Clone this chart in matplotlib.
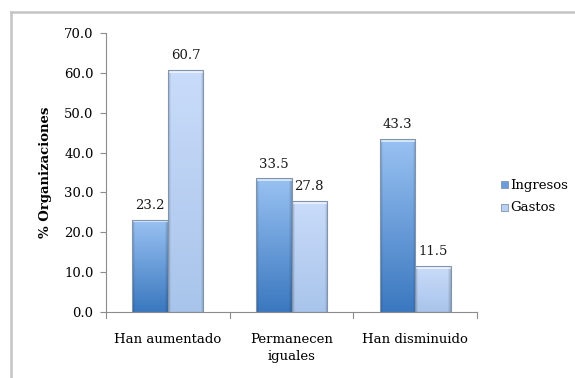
import numpy as np
import matplotlib
matplotlib.use("Agg")
import matplotlib.pyplot as plt
from matplotlib.patches import Rectangle
from matplotlib.lines import Line2D

categories = ["Han aumentado", "Permanecen\niguales", "Han disminuido"]
ingresos = [23.2, 33.5, 43.3]
gastos = [60.7, 27.8, 11.5]
series_names = ["Ingresos", "Gastos"]
yticks = [0, 10, 20, 30, 40, 50, 60, 70]

plt.rcParams["font.family"] = ["DejaVu Serif"]
FS = 9.5

W, H = 575, 378
fig = plt.figure(figsize=(W / 100, H / 100), dpi=100)
ax = fig.add_axes([106 / W, 1 - 312 / H, (477 - 106) / W, (312 - 33) / H])

# outer chart frame (only top and left edges fall inside the canvas)
fig.add_artist(Line2D([11 / W, 11 / W], [0, 1 - 12 / H], transform=fig.transFigure,
                      color="#c4c4c4", lw=1.8))
fig.add_artist(Line2D([11 / W, 1], [1 - 12 / H, 1 - 12 / H], transform=fig.transFigure,
                      color="#c4c4c4", lw=1.8))

x = np.arange(len(categories))
bw = 0.287

styles = {
    "Ingresos": dict(top=np.array([0.60, 0.76, 0.95]), bot=np.array([0.23, 0.47, 0.75])),
    "Gastos": dict(top=np.array([0.79, 0.86, 0.98]), bot=np.array([0.66, 0.77, 0.92])),
}


def shaded_bar(ax, xc, h, style):
    rect = Rectangle((xc - bw / 2, 0), bw, h, facecolor="none",
                     edgecolor="#8094ad", lw=0.8, zorder=3)
    ax.add_patch(rect)
    ny = max(int(h * 4), 4)
    nx = 36
    t = np.linspace(1, 0, ny)[:, None, None]
    img = style["bot"] + (style["top"] - style["bot"]) * t
    img = np.repeat(img, nx, axis=1)
    # bevelled side edges
    u = np.linspace(0, 1, nx)
    edge = np.clip(np.minimum(u, 1 - u) / 0.08, 0, 1)
    shade = 0.82 + 0.18 * edge
    img = img * shade[None, :, None]
    # light top cap
    cap = min(3, ny)
    img[:cap] = img[:cap] * 0.4 + 0.6
    img = np.clip(img, 0, 1)
    im = ax.imshow(img, extent=(xc - bw / 2, xc + bw / 2, 0, h), aspect="auto",
                   interpolation="bilinear", zorder=2)
    im.set_clip_path(rect)
    return rect


for name, vals, off in [("Ingresos", ingresos, -bw / 2), ("Gastos", gastos, bw / 2)]:
    for xi, v in zip(x, vals):
        shaded_bar(ax, xi + off, v, styles[name])
        ax.text(xi + off, v + 2.0, f"{v:.1f}", ha="center", va="bottom",
                fontsize=FS, color="#1a1a1a")

ax.set_xlim(-0.5, 2.5)
ax.set_ylim(0, 70)
ax.set_yticks(yticks)
ax.set_yticklabels([f"{v:.1f}" for v in yticks], fontsize=FS)
ax.set_xticks(x)
ax.set_xticklabels(categories, fontsize=FS, linespacing=1.45)
ax.tick_params(axis="x", length=0, pad=15)
ax.tick_params(axis="y", length=4, color="#8c8c8c", pad=5)
# category separators on the x axis
for b in [-0.5, 0.5, 1.5, 2.5]:
    ax.plot([b, b], [0, -1.6], color="#8c8c8c", lw=0.8, clip_on=False, zorder=4)

for s in ["top", "right"]:
    ax.spines[s].set_visible(False)
for s in ["left", "bottom"]:
    ax.spines[s].set_color("#8c8c8c")
    ax.spines[s].set_linewidth(0.8)

ax.set_ylabel("% Organizaciones", fontsize=FS, fontweight="bold", labelpad=9)

# legend
for name, yy in zip(series_names, [185, 207]):
    st = styles[name]
    fig.patches.append(Rectangle((501 / W, 1 - (yy + 3.5) / H), 7 / W, 7 / H,
                                 transform=fig.transFigure,
                                 facecolor=(st["top"] + st["bot"]) / 2,
                                 edgecolor="#8094ad", lw=0.6))
    fig.text(510 / W, 1 - yy / H, name, fontsize=FS, va="center", ha="left")

fig.savefig("out.png", dpi=100)
